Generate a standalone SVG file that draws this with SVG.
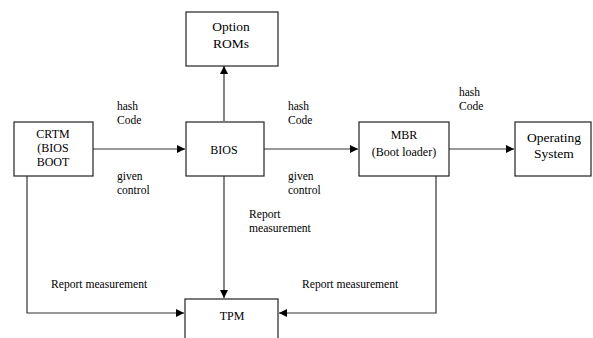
<svg xmlns="http://www.w3.org/2000/svg" width="593" height="338" viewBox="0 0 593 338" font-family="Liberation Serif, Times New Roman, serif">
<defs>
<marker id="ah" viewBox="0 0 10 10" refX="10" refY="5" markerWidth="8" markerHeight="8" markerUnits="userSpaceOnUse" orient="auto">
<path d="M0,0 L10,5 L0,10 z" fill="#000"/>
</marker>
</defs>
<style>
.box{fill:#fff;stroke:#222;stroke-width:1.2}
.edge{fill:none;stroke:#333;stroke-width:1.2;marker-end:url(#ah)}
text{font-family:'Liberation Serif',serif;fill:#000}
.n{font-size:12px;text-anchor:middle}
.l{font-size:11.5px}
.r{font-size:11.6px}
.big{font-size:13.5px;text-anchor:middle}
</style>
<rect width="593" height="338" fill="#fff"/>
<g id="connectors">
<path class="edge" d="M93,149 H185"/>
<path class="edge" d="M224,121 V66"/>
<path class="edge" d="M264,149 H358"/>
<path class="edge" d="M449,149 H514"/>
<path class="edge" d="M224,176 V298"/>
<path class="edge" d="M27,176 V313 H184"/>
<path class="edge" d="M436,176 V313 H279"/>
<text class="l" x="117" y="110">hash</text>
<text class="l" x="117" y="124">Code</text>
<text class="l" x="117" y="180">given</text>
<text class="l" x="117" y="194">control</text>
<text class="l" x="288" y="110">hash</text>
<text class="l" x="288" y="124">Code</text>
<text class="l" x="288" y="180">given</text>
<text class="l" x="288" y="194">control</text>
<text class="l" x="459" y="96">hash</text>
<text class="l" x="459" y="110">Code</text>
<text class="r" x="249" y="218">Report</text>
<text class="r" x="249" y="232">measurement</text>
<text class="r" x="51" y="288">Report measurement</text>
<text class="r" x="302" y="288">Report measurement</text>
</g>
<g id="crtm">
<rect class="box" x="14" y="122" width="79" height="54"/>
<text class="n" x="53" y="138">CRTM</text>
<text class="n" x="53" y="152">(BIOS</text>
<text class="n" x="53" y="166">BOOT</text>
</g>
<g id="option-roms">
<rect class="box" x="186" y="12" width="92" height="54"/>
<text class="big" x="231" y="31">Option</text>
<text class="big" x="231" y="48">ROMs</text>
</g>
<g id="bios">
<rect class="box" x="186" y="122" width="78" height="54"/>
<text class="n" x="224" y="154">BIOS</text>
</g>
<g id="mbr">
<rect class="box" x="359" y="122" width="90" height="54"/>
<text class="n" x="404" y="139">MBR</text>
<text class="n" x="404" y="156">(Boot loader)</text>
</g>
<g id="os">
<rect class="box" x="515" y="122" width="76" height="54"/>
<text class="big" x="554" y="142">Operating</text>
<text class="big" x="554" y="158">System</text>
</g>
<g id="tpm">
<rect class="box" x="185" y="299" width="93" height="45"/>
<text class="n" x="232" y="320">TPM</text>
</g>
</svg>
